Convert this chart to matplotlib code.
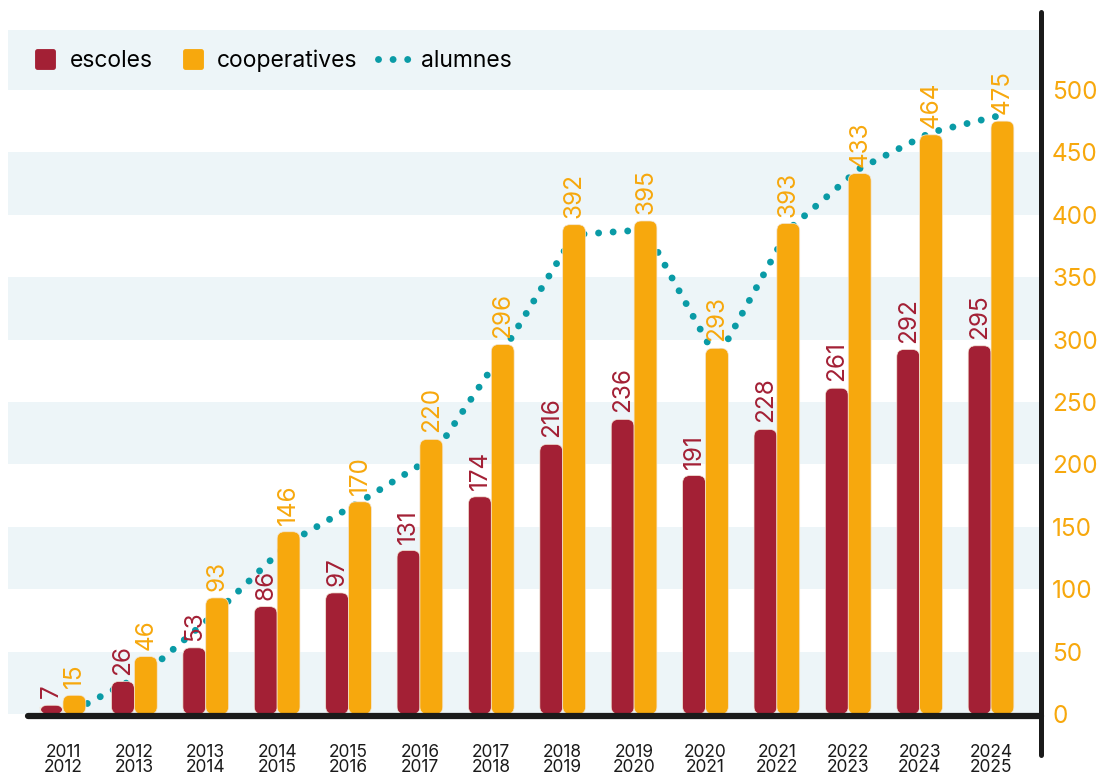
import matplotlib
matplotlib.use("Agg")
import matplotlib.pyplot as plt
import matplotlib.transforms as mtransforms
from matplotlib.patches import FancyBboxPatch
from matplotlib.lines import Line2D
from matplotlib.markers import MarkerStyle
import numpy as np

plt.rcParams['font.family'] = ['Inter', 'DejaVu Sans']

# ---- data ----
cursos = ["2011\n2012", "2012\n2013", "2013\n2014", "2014\n2015", "2015\n2016",
          "2016\n2017", "2017\n2018", "2018\n2019", "2019\n2020", "2020\n2021",
          "2021\n2022", "2022\n2023", "2023\n2024", "2024\n2025"]
escoles = [7, 26, 53, 86, 97, 131, 174, 216, 236, 191, 228, 261, 292, 295]
cooperatives = [15, 46, 93, 146, 170, 220, 296, 392, 395, 293, 393, 433, 464, 475]
alumnes = [3, 33, 82, 137, 170, 205, 290, 384, 388, 284, 388, 437, 466, 480]
yticks = [0, 50, 100, 150, 200, 250, 300, 350, 400, 450, 500]

RED = '#A32035'
ORANGE = '#F7A80D'
TEAL = '#0A9BA6'
BAND = '#EDF5F8'

W, H = 1109, 774
fig = plt.figure(figsize=(W / 100, H / 100), dpi=100)
ax = fig.add_axes([8 / W, 55 / H, 1033 / W, 689 / H])

x = np.arange(len(cursos))
bw = 0.32
ax.set_xlim(-0.77, len(cursos) - 1 + 0.70)
ax.set_ylim(-4, 548)

# background bands
for lo in yticks[::2]:
    ax.axhspan(lo, lo + 50 if lo < 500 else 548, color=BAND, lw=0, zorder=0)

# alumnes dotted line (behind bars)
ax.plot(x + bw / 2, alumnes, color=TEAL, lw=5, ls=(0, (0.001, 2.1)),
        dash_capstyle='round', zorder=2)

# bars
b1 = ax.bar(x - bw / 2, escoles, bw, color=RED, zorder=3)
b2 = ax.bar(x + bw / 2, cooperatives, bw, color=ORANGE, zorder=3)

aspect = (1033 / (ax.get_xlim()[1] - ax.get_xlim()[0])) / (689 / (548 + 4))
for bars, col in ((b1, RED), (b2, ORANGE)):
    for p in bars:
        bx, by, bwid, bh = p.get_x(), p.get_y(), p.get_width(), p.get_height()
        p.set_visible(False)
        fb = FancyBboxPatch((bx, by), bwid, bh,
                            boxstyle="round,pad=0,rounding_size=0.1",
                            mutation_aspect=aspect,
                            facecolor=col, edgecolor='#f3e6d6', lw=0.5, zorder=3)
        ax.add_patch(fb)
    for p in bars:
        v = p.get_height()
        ax.annotate(str(int(v)), (p.get_x() + p.get_width() / 2, v),
                    xytext=(0, 5), textcoords='offset points',
                    rotation=90, ha='center', va='bottom',
                    fontsize=17.5, color=col, zorder=5)

# baseline
ax.plot([0.019, 1.0], [-1.5, -1.5],
        transform=mtransforms.blended_transform_factory(ax.transAxes, ax.transData),
        color='#1a1a1a', lw=4.5, solid_capstyle='round', clip_on=False, zorder=6)
# right spine
ax.plot([1.0, 1.0], [-0.052, 1.026], transform=ax.transAxes,
        color='#1a1a1a', lw=3.6, solid_capstyle='round', clip_on=False, zorder=6)

for s in ax.spines.values():
    s.set_visible(False)

ax.yaxis.tick_right()
ax.set_yticks(yticks)
ax.set_yticklabels([str(t) for t in yticks])
ax.tick_params(axis='y', length=0, pad=8, labelsize=17.5, labelcolor=ORANGE)

ax.set_xticks(x)
ax.set_xticklabels(cursos, linespacing=0.85)
ax.tick_params(axis='x', length=0, pad=18, labelsize=12.5, labelcolor='#1a1a1a')

handles = [
    Line2D([], [], ls='none', marker=MarkerStyle('s', joinstyle='round'),
           markersize=12, markerfacecolor=RED, markeredgecolor=RED, markeredgewidth=3.5),
    Line2D([], [], ls='none', marker=MarkerStyle('s', joinstyle='round'),
           markersize=12, markerfacecolor=ORANGE, markeredgecolor=ORANGE, markeredgewidth=3.5),
    Line2D([], [], color=TEAL, lw=5, ls=(0, (0.001, 2.1)), dash_capstyle='round'),
]
leg = ax.legend(handles, ['escoles', 'cooperatives', 'alumnes'], ncol=3,
                loc='center left', bbox_to_anchor=(26 / W, 1 - 61 / H),
                bbox_transform=fig.transFigure, frameon=False,
                fontsize=16.5, handlelength=1.7, handletextpad=0.2,
                columnspacing=0.9, borderpad=0, borderaxespad=0)
leg.set_zorder(7)

fig.savefig('out.png', dpi=100)
